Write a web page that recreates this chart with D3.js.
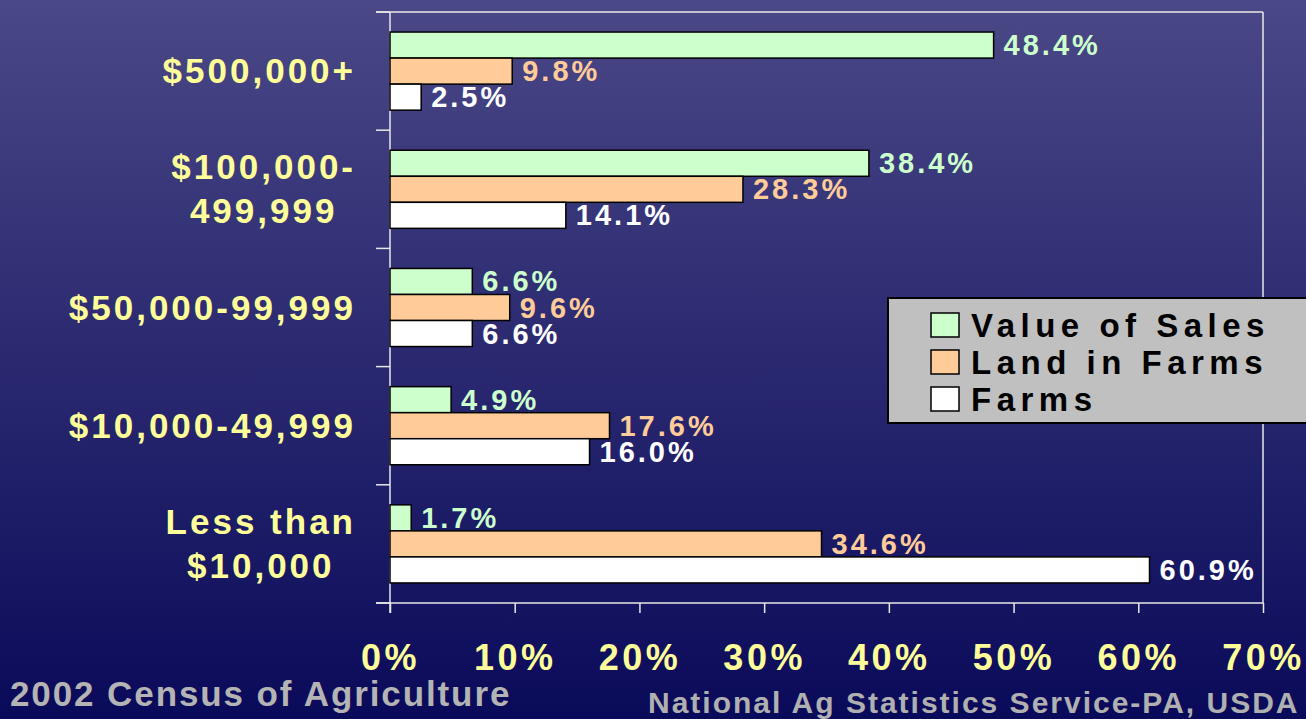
<!DOCTYPE html>
<html>
<head>
<meta charset="utf-8">
<script src="https://cdn.jsdelivr.net/npm/d3@7"></script>
<style>
  html, body { margin: 0; padding: 0; overflow: hidden; }
  svg { display: block; font-family: Arial, "Liberation Sans", sans-serif; font-weight: bold; }
</style>
</head>
<body>
<script>
const categories = ["$500,000+", "$100,000-\n499,999", "$50,000-99,999", "$10,000-49,999", "Less than\n$10,000"];
const valueOfSales = [48.4, 38.4, 6.6, 4.9, 1.7];
const landInFarms = [9.8, 28.3, 9.6, 17.6, 34.6];
const farms = [2.5, 14.1, 6.6, 16.0, 60.9];
const seriesNames = ["Value of Sales", "Land in Farms", "Farms"];
const seriesColors = ["#ccffcc", "#ffcc99", "#ffffff"];
const xTicks = [0, 10, 20, 30, 40, 50, 60, 70];

const width = 1306, height = 719;
const plotLeft = 390, plotRight = 1263, plotTop = 12, plotBottom = 603;

const svg = d3.select("body").append("svg")
  .attr("width", width)
  .attr("height", height);

const grad = svg.append("defs").append("linearGradient")
  .attr("id", "bg").attr("x1", 0).attr("y1", 0).attr("x2", 0).attr("y2", 1);
grad.append("stop").attr("offset", "0%").attr("stop-color", "#4a4886");
grad.append("stop").attr("offset", "100%").attr("stop-color", "#0a0a5a");

svg.append("rect").attr("width", width).attr("height", height).attr("fill", "url(#bg)");

const x = d3.scaleLinear().domain([0, 70]).range([plotLeft, plotRight]);
const y = d3.scaleBand().domain(categories).range([plotTop, plotBottom]);
const inner = d3.scaleBand().domain(seriesNames).range([0, y.bandwidth()]).paddingOuter(0.77);

const series = [valueOfSales, landInFarms, farms];

// frame
svg.append("line").attr("x1", plotLeft - 14).attr("x2", plotRight).attr("y1", plotTop).attr("y2", plotTop)
  .attr("stroke", "#e8e8e8").attr("stroke-width", 1.5);
svg.append("line").attr("x1", plotRight).attr("x2", plotRight).attr("y1", plotTop).attr("y2", plotBottom)
  .attr("stroke", "#e8e8e8").attr("stroke-width", 1.5);

// y axis
const yAxis = svg.append("g").attr("transform", `translate(${plotLeft},0)`)
  .call(d3.axisLeft(y).tickSize(0).tickFormat(""));
yAxis.select(".domain").attr("stroke", "#e8e8e8").attr("stroke-width", 1.5)
  .attr("d", `M0,${plotTop}V${plotBottom + 10}`);
yAxis.selectAll(".cat-tick")
  .data(d3.range(categories.length + 1))
  .enter().append("line")
  .attr("x1", -14).attr("x2", 0)
  .attr("y1", (i) => plotTop + i * y.step())
  .attr("y2", (i) => plotTop + i * y.step())
  .attr("stroke", "#e8e8e8").attr("stroke-width", 1.5);

// x axis
const xAxis = svg.append("g").attr("transform", `translate(0,${plotBottom})`)
  .call(d3.axisBottom(x).tickValues(xTicks).tickSize(10).tickPadding(40).tickFormat((d) => d + "%"));
xAxis.select(".domain").attr("stroke", "#e8e8e8").attr("stroke-width", 1.5)
  .attr("d", `M${plotLeft - 14},0H${plotRight}`);
xAxis.selectAll(".tick line").attr("stroke", "#e8e8e8").attr("stroke-width", 1.5);
xAxis.selectAll(".tick text")
  .attr("fill", "#ffff99")
  .style("font-size", "36px")
  .style("font-weight", "bold")
  .style("font-family", "Arial, 'Liberation Sans', sans-serif")
  .style("letter-spacing", "3.5px")
  .attr("dx", "0px")
  .attr("y", 67)
  .attr("dy", 0);

// bars
series.forEach(function (vals, si) {
  const g = svg.append("g");
  g.selectAll("rect")
    .data(vals)
    .enter().append("rect")
    .attr("x", x(0))
    .attr("y", (d, i) => y(categories[i]) + inner(seriesNames[si]))
    .attr("width", (d) => x(d) - x(0))
    .attr("height", inner.bandwidth())
    .attr("fill", seriesColors[si])
    .attr("stroke", "#000")
    .attr("stroke-width", 1.5);
  g.selectAll("text")
    .data(vals)
    .enter().append("text")
    .attr("x", (d) => x(d) + 10)
    .attr("y", (d, i) => y(categories[i]) + inner(seriesNames[si]) + inner.bandwidth() / 2 + 10)
    .text((d) => d3.format(".1f")(d) + "%")
    .attr("fill", seriesColors[si])
    .style("font-size", "29px")
    .style("letter-spacing", "3px");
});

// category labels
const catRight = 356;
categories.forEach(function (c, i) {
  const lines = c.split("\n");
  const cy = y(c) + y.bandwidth() / 2;
  const lh = 44;
  const t = svg.append("text")
    .attr("fill", "#ffff99")
    .style("font-size", "35px")
    .style("letter-spacing", "3px");
  const spans = lines.map(function (l, j) {
    return t.append("tspan")
      .attr("y", cy + (j - (lines.length - 1) / 2) * lh + 12)
      .text(l);
  });
  const maxW = d3.max(spans, (s) => s.node().getComputedTextLength());
  spans.forEach(function (s) {
    s.attr("x", catRight - maxW / 2).attr("text-anchor", "middle");
  });
});

// legend
const lg = svg.append("g").attr("transform", "translate(888,298)");
lg.append("rect").attr("width", 420).attr("height", 125)
  .attr("fill", "#c0c0c0").attr("stroke", "#000").attr("stroke-width", 2);
seriesNames.forEach(function (n, i) {
  lg.append("rect").attr("x", 43).attr("y", 15 + i * 37).attr("width", 28).attr("height", 24)
    .attr("fill", seriesColors[i]).attr("stroke", "#000").attr("stroke-width", 1.5);
  lg.append("text").attr("x", 83).attr("y", 39 + i * 37)
    .text(n).attr("fill", "#000")
    .style("font-size", "33px").style("letter-spacing", "5.5px");
});

// footer
svg.append("text").attr("x", 10).attr("y", 706)
  .text("2002 Census of Agriculture")
  .attr("fill", "#b4b4b4").style("font-size", "35px").style("letter-spacing", "1.9px");
svg.append("text").attr("x", 648).attr("y", 713)
  .text("National Ag Statistics Service-PA, USDA")
  .attr("fill", "#b0b0b0").style("font-size", "30px").style("letter-spacing", "2px");
</script>
</body>
</html>
